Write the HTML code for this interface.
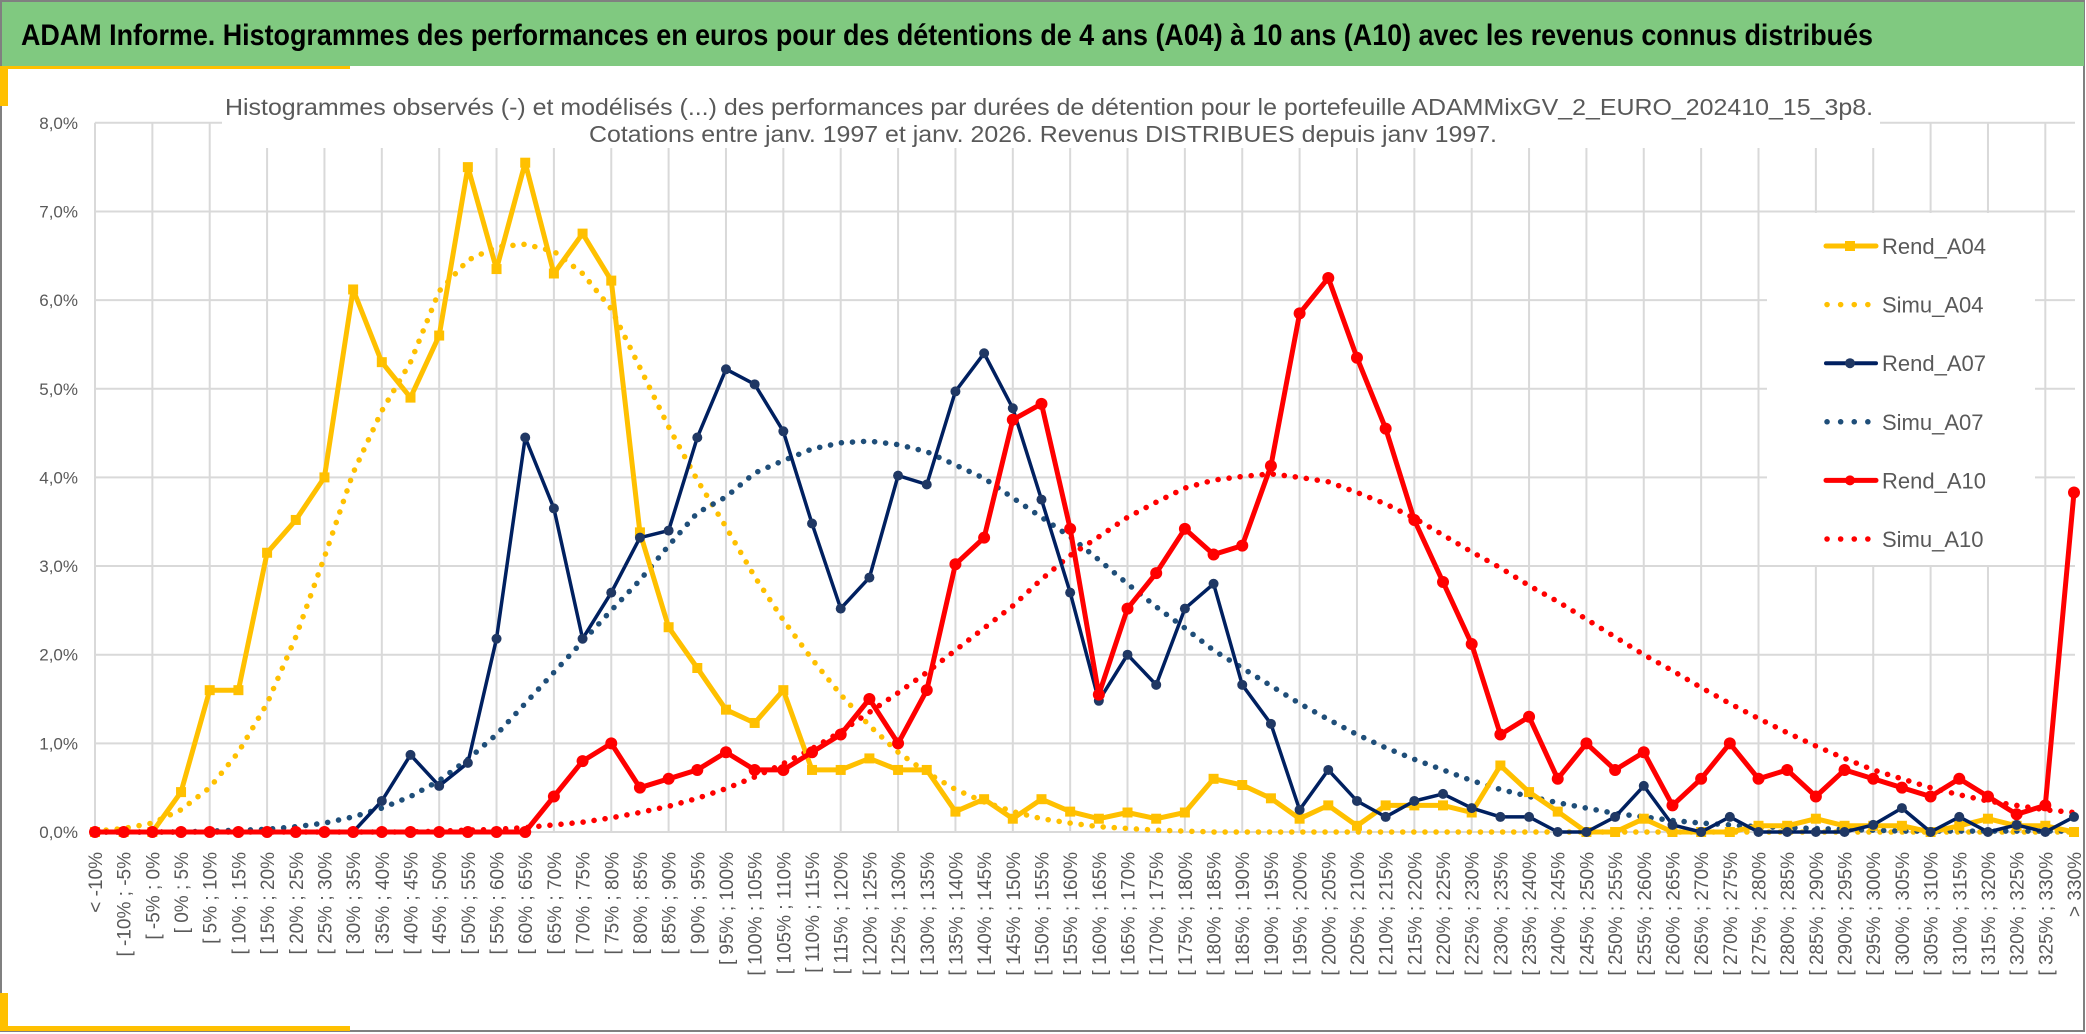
<!DOCTYPE html>
<html><head><meta charset="utf-8"><style>
html,body{margin:0;padding:0;background:#fff;}
svg{display:block;font-family:"Liberation Sans",sans-serif;}
</style></head><body>
<svg id="chart" width="2086" height="1034" viewBox="0 0 2086 1034" xmlns="http://www.w3.org/2000/svg">
<rect x="0" y="0" width="2086" height="1034" fill="#fff"/>
<rect x="1" y="1" width="2083" height="1030" fill="none" stroke="#808080" stroke-width="2"/>
<rect x="2" y="2" width="2082" height="64" fill="#80c980"/>
<text x="21" y="45" font-size="30" font-weight="bold" fill="#000" textLength="1852" lengthAdjust="spacingAndGlyphs">ADAM Informe. Histogrammes des performances en euros pour des détentions de 4 ans (A04) à 10 ans (A10) avec les revenus connus distribués</text>
<rect x="0" y="66" width="350" height="3" fill="#ffc000"/>
<rect x="0" y="66" width="8" height="40" fill="#ffc000"/>
<rect x="0" y="993" width="8" height="38" fill="#ffc000"/>
<rect x="0" y="1026" width="350" height="5" fill="#ffc000"/>
<g id="grid"></g>
<g id="yaxis"></g>
<g id="xaxis"></g>
<rect x="222" y="86" width="1658" height="62" fill="#fff"/>
<text x="1049" y="115" font-size="23" fill="#595959" text-anchor="middle" textLength="1648" lengthAdjust="spacingAndGlyphs">Histogrammes observés (-) et modélisés (...) des performances par durées de détention pour le portefeuille ADAMMixGV_2_EURO_202410_15_3p8.</text>
<text x="1043" y="142" font-size="23" fill="#595959" text-anchor="middle" textLength="908" lengthAdjust="spacingAndGlyphs">Cotations entre janv. 1997 et janv. 2026. Revenus DISTRIBUES depuis janv 1997.</text>
<g id="series"></g>
<rect x="1767" y="213" width="268" height="352" fill="#fff"/>
<g id="legend"></g>
</svg>
<script>
const categories = ["< -10%"];
for (let b = -10; b < 330; b += 5) categories.push("[ " + b + "% ; " + (b + 5) + "%");
categories.push("> 330%");
const yTicks = [0,1,2,3,4,5,6,7,8];
const yTickLabels = ["0,0%","1,0%","2,0%","3,0%","4,0%","5,0%","6,0%","7,0%","8,0%"];
const rendA04 = [0,0,0,0.45,1.6,1.6,3.15,3.52,4.0,6.12,5.3,4.9,5.6,7.5,6.35,7.55,6.3,6.75,6.22,3.38,2.31,1.85,1.38,1.23,1.6,0.7,0.7,0.83,0.7,0.7,0.23,0.37,0.15,0.37,0.23,0.15,0.22,0.15,0.22,0.6,0.53,0.38,0.15,0.3,0.07,0.3,0.3,0.3,0.22,0.75,0.45,0.23,0,0,0.15,0,0,0,0.07,0.07,0.15,0.07,0.07,0.07,0,0.07,0.15,0.07,0.07,0];
const simuA04 = [0.01,0.04,0.1,0.25,0.5,0.9,1.45,2.2,3.1,4.05,4.75,5.3,6.1,6.45,6.6,6.63,6.55,6.3,5.9,5.24,4.57,3.97,3.44,2.88,2.39,1.95,1.55,1.2,0.9,0.67,0.48,0.34,0.23,0.15,0.1,0.06,0.04,0.02,0.01,0,0,0,0,0,0,0,0,0,0,0,0,0,0,0,0,0,0,0,0,0,0,0,0,0,0,0,0,0,0,0];
const rendA07 = [0,0,0,0,0,0,0,0,0,0,0.35,0.87,0.52,0.78,2.18,4.45,3.65,2.18,2.7,3.32,3.4,4.45,5.22,5.05,4.52,3.48,2.52,2.87,4.02,3.92,4.97,5.4,4.78,3.75,2.7,1.48,2.0,1.66,2.52,2.8,1.66,1.22,0.25,0.7,0.35,0.17,0.35,0.43,0.27,0.17,0.17,0,0,0.17,0.52,0.08,0,0.17,0,0,0,0,0.08,0.27,0,0.17,0,0.08,0,0.17];
const simuA07 = [0,0,0,0,0.01,0.02,0.03,0.06,0.1,0.17,0.27,0.4,0.58,0.82,1.1,1.45,1.8,2.15,2.5,2.84,3.23,3.6,3.78,4.05,4.19,4.32,4.39,4.41,4.37,4.29,4.14,3.99,3.77,3.55,3.33,3.07,2.8,2.54,2.3,2.05,1.85,1.65,1.45,1.27,1.1,0.95,0.82,0.7,0.58,0.48,0.4,0.33,0.27,0.21,0.17,0.13,0.1,0.08,0.06,0.05,0.04,0.03,0.02,0.01,0.01,0.01,0.01,0.01,0.01,0.01];
const rendA10 = [0,0,0,0,0,0,0,0,0,0,0,0,0,0,0,0,0.4,0.8,1.0,0.5,0.6,0.7,0.9,0.7,0.7,0.9,1.1,1.5,1.0,1.6,3.02,3.32,4.65,4.83,3.42,1.55,2.52,2.92,3.42,3.13,3.23,4.13,5.85,6.25,5.35,4.55,3.52,2.82,2.12,1.1,1.3,0.6,1.0,0.7,0.9,0.3,0.6,1.0,0.6,0.7,0.4,0.7,0.6,0.5,0.4,0.6,0.4,0.2,0.3,3.83];
const simuA10 = [0,0,0,0,0,0,0,0,0,0,0,0,0.01,0.02,0.03,0.05,0.08,0.11,0.16,0.22,0.29,0.38,0.49,0.62,0.77,0.94,1.13,1.35,1.57,1.8,2.05,2.3,2.55,2.85,3.12,3.33,3.55,3.72,3.88,3.97,4.01,4.04,4.0,3.95,3.83,3.7,3.54,3.35,3.16,2.98,2.78,2.6,2.4,2.2,2.0,1.82,1.63,1.45,1.28,1.12,0.97,0.83,0.7,0.6,0.5,0.42,0.35,0.3,0.25,0.22];
const legendLabels = ["Rend_A04","Simu_A04","Rend_A07","Simu_A07","Rend_A10","Simu_A10"];

const NS = "http://www.w3.org/2000/svg";
const X0 = 95, X1 = 2074, Y0 = 832, PER = 88.65;
const xs = i => X0 + i * (X1 - X0) / (categories.length - 1);
const ys = v => Y0 - v * PER;
function mk(tag, parent, attrs) {
  const e = document.createElementNS(NS, tag);
  for (const k in attrs) e.setAttribute(k, attrs[k]);
  parent.appendChild(e);
  return e;
}
const grid = document.getElementById("grid");
yTicks.forEach(t => {
  const l = mk("line", grid, {x1: X0, x2: 2075, y1: ys(t), y2: ys(t), stroke: "#d9d9d9", "stroke-width": 2});
  
  
});
for (let i = 0; i < categories.length; i += 2) {
  const l = mk("line", grid, {x1: xs(i), x2: xs(i), y1: ys(8), y2: Y0, stroke: "#d9d9d9", "stroke-width": 2});
  
  
}
const ya = document.getElementById("yaxis");
yTicks.forEach((t, k) => {
  const tx = mk("text", ya, {x: 78, y: ys(t) + 6, "font-size": 17, fill: "#595959", "text-anchor": "end"});
  tx.textContent = yTickLabels[k];
  
  
});
const xa = document.getElementById("xaxis");
categories.forEach((c, i) => {
  const x = xs(i) + 7, y = 852;
  const tx = mk("text", xa, {x: x, y: y, "font-size": 19, fill: "#595959", "text-anchor": "end", transform: "rotate(-90 " + x + " " + y + ")"});
  tx.textContent = c;
  
  
});
const sg = document.getElementById("series");
function pts(arr) { return arr.map((v, i) => xs(i).toFixed(1) + "," + ys(v).toFixed(1)).join(" "); }
function dotted(arr, color, name) {
  const p = mk("polyline", sg, {points: pts(arr), fill: "none", stroke: color, "stroke-width": 5.5, "stroke-linecap": "round", "stroke-dasharray": "0.1 11"});
  
  
}
function solid(arr, color, w, marker, mcolor, name) {
  const p = mk("polyline", sg, {points: pts(arr), fill: "none", stroke: color, "stroke-width": w, "stroke-linejoin": "round"});
  
  
  arr.forEach((v, i) => {
    let m;
    if (marker === "square") m = mk("rect", sg, {x: xs(i) - 5, y: ys(v) - 5, width: 10, height: 10, fill: mcolor});
    else m = mk("circle", sg, {cx: xs(i), cy: ys(v), r: marker, fill: mcolor});
    
    
  });
}
dotted(simuA04, "#ffc000", "simu-a04-line");
dotted(simuA07, "#1f4e79", "simu-a07-line");
dotted(simuA10, "#ff0000", "simu-a10-line");
solid(rendA04, "#ffc000", 5, "square", "#ffc000", "rend-a04-line");
solid(rendA07, "#002060", 3.5, 5, "#203864", "rend-a07-line");
solid(rendA10, "#ff0000", 5, 6, "#ff0000", "rend-a10-line");

const lg = document.getElementById("legend");
const lstyle = [
  ["#ffc000", "solid", "square"], ["#ffc000", "dot", null],
  ["#002060", "solid", "circle"], ["#1f4e79", "dot", null],
  ["#ff0000", "solid", "circle"], ["#ff0000", "dot", null]];
legendLabels.forEach((lab, k) => {
  const y = 246 + k * 58.6;
  const g = mk("g", lg, {});
  
  
  const [c, st, mk2] = lstyle[k];
  if (st === "solid") {
    mk("line", g, {x1: 1826, x2: 1876, y1: y, y2: y, stroke: c, "stroke-width": c === "#002060" ? 4 : 5, "stroke-linecap": "round"});
    if (mk2 === "square") mk("rect", g, {x: 1845, y: y - 5, width: 10, height: 10, fill: c});
    else mk("circle", g, {cx: 1850, cy: y, r: 5, fill: c === "#002060" ? "#203864" : c});
  } else {
    mk("line", g, {x1: 1827, x2: 1868, y1: y, y2: y, stroke: c, "stroke-width": 5.5, "stroke-linecap": "round", "stroke-dasharray": "0.1 13.5"});
  }
  const t = mk("text", g, {x: 1882, y: y + 8, "font-size": 22, fill: "#595959"});
  t.textContent = lab;
});
</script>
</body></html>
